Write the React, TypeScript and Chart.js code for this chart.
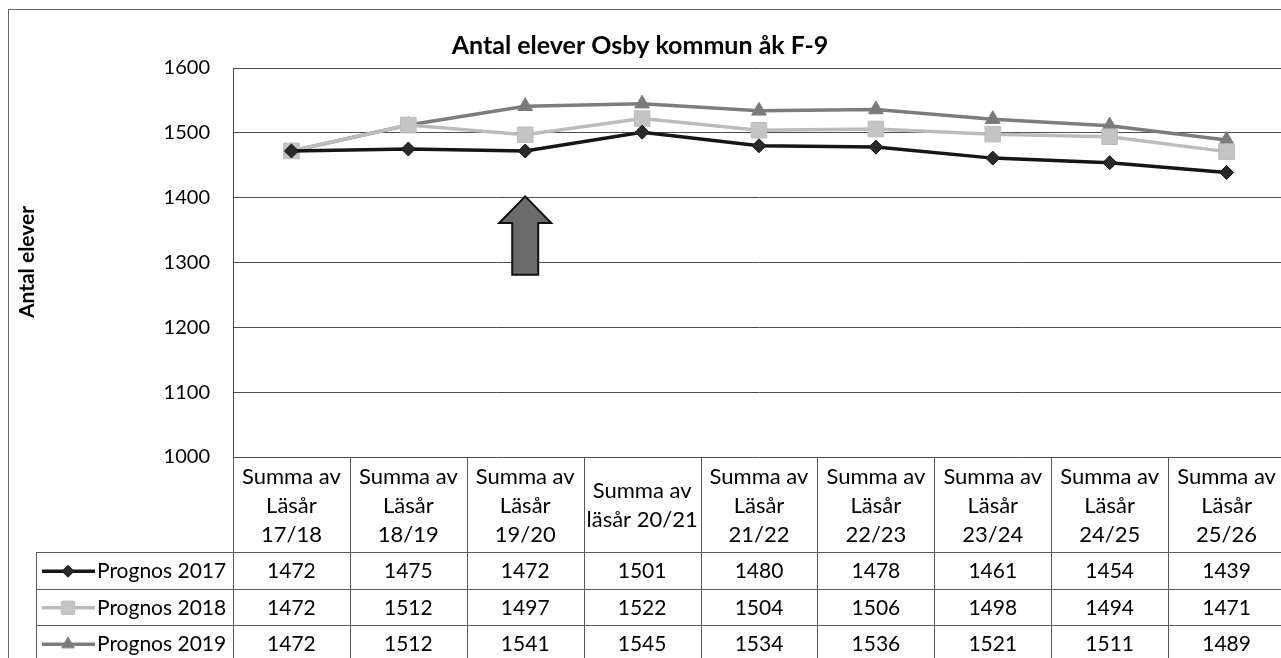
import React, { useEffect, useRef } from "react";
import { Chart, registerables } from "chart.js";

Chart.register(...registerables);

const chartTitle = "Antal elever Osby kommun åk F-9";
const yAxisTitle = "Antal elever";
const categories: string[][] = [
  ["Summa av", "Läsår", "17/18"],
  ["Summa av", "Läsår", "18/19"],
  ["Summa av", "Läsår", "19/20"],
  ["Summa av", "läsår 20/21"],
  ["Summa av", "Läsår", "21/22"],
  ["Summa av", "Läsår", "22/23"],
  ["Summa av", "Läsår", "23/24"],
  ["Summa av", "Läsår", "24/25"],
  ["Summa av", "Läsår", "25/26"],
];
const seriesNames = ["Prognos 2017", "Prognos 2018", "Prognos 2019"];
const prognos2017 = [1472, 1475, 1472, 1501, 1480, 1478, 1461, 1454, 1439];
const prognos2018 = [1472, 1512, 1497, 1522, 1504, 1506, 1498, 1494, 1471];
const prognos2019 = [1472, 1512, 1541, 1545, 1534, 1536, 1521, 1511, 1489];
const yMin = 1000;
const yMax = 1600;
const yStep = 100;

const FONT = "Lato, 'Open Sans', sans-serif";
const CANVAS_W = 1300;
const CANVAS_H = 670;

const seriesStyles = [
  { color: "#151515", point: "rectRot", radius: 7, fill: "#2a2a2a" },
  { color: "#bcbcbc", point: "rect", radius: 11, fill: "#c4c4c4" },
  { color: "#7c7c7c", point: "triangle", radius: 8.5, fill: "#7a7a7a" },
];

function drawMarker(ctx: CanvasRenderingContext2D, kind: string, x: number, y: number, r: number, fill: string, stroke: string) {
  ctx.save();
  ctx.fillStyle = fill;
  ctx.strokeStyle = stroke;
  ctx.lineWidth = 1;
  ctx.beginPath();
  if (kind === "rectRot") {
    ctx.moveTo(x, y - r);
    ctx.lineTo(x + r, y);
    ctx.lineTo(x, y + r);
    ctx.lineTo(x - r, y);
    ctx.closePath();
  } else if (kind === "rect") {
    const s = Math.SQRT1_2 * r;
    ctx.rect(x - s, y - s, 2 * s, 2 * s);
  } else {
    ctx.moveTo(x, y - r);
    ctx.lineTo(x + r * 0.866, y + r * 0.5);
    ctx.lineTo(x - r * 0.866, y + r * 0.5);
    ctx.closePath();
  }
  ctx.fill();
  ctx.stroke();
  ctx.restore();
}

const decorPlugin = {
  id: "decor",
  beforeDraw(chart: any) {
    const ctx = chart.ctx as CanvasRenderingContext2D;
    ctx.save();
    ctx.fillStyle = "#ffffff";
    ctx.fillRect(0, 0, chart.width, chart.height);
    ctx.restore();
  },
  afterDatasetsDraw(chart: any) {
    // highlight arrow under the 19/20 column
    const ctx = chart.ctx as CanvasRenderingContext2D;
    const xs = chart.scales.x;
    const ys = chart.scales.y;
    const cx = xs.getPixelForValue(2);
    const tip = ys.getPixelForValue(1402);
    const base = ys.getPixelForValue(1361);
    const bottom = ys.getPixelForValue(1281);
    ctx.save();
    ctx.beginPath();
    ctx.moveTo(cx, tip);
    ctx.lineTo(cx + 26, base);
    ctx.lineTo(cx + 13, base);
    ctx.lineTo(cx + 13, bottom);
    ctx.lineTo(cx - 13, bottom);
    ctx.lineTo(cx - 13, base);
    ctx.lineTo(cx - 26, base);
    ctx.closePath();
    ctx.fillStyle = "#6b6b6b";
    ctx.fill();
    ctx.lineWidth = 2;
    ctx.strokeStyle = "#111";
    ctx.stroke();
    ctx.restore();
  },
  afterDraw(chart: any) {
    const ctx = chart.ctx as CanvasRenderingContext2D;
    const area = chart.chartArea;
    const xs = chart.scales.x;
    const n = categories.length;
    const colW = (area.right - area.left) / n;
    const tableTop = area.bottom;
    const headerBottom = tableTop + 95;
    const rowH = 36.5;
    const legendLeft = 36;
    const grid = "#5a5a5a";

    ctx.save();
    // outer frame
    ctx.strokeStyle = "#666";
    ctx.lineWidth = 1;
    ctx.strokeRect(8.5, 9.5, CANVAS_W + 50, CANVAS_H + 50);

    // title
    ctx.fillStyle = "#000";
    ctx.font = `bold 25px ${FONT}`;
    ctx.textAlign = "center";
    ctx.textBaseline = "middle";
    ctx.fillText(chartTitle, 640, 46);

    // y-axis title
    ctx.save();
    ctx.translate(27, 262);
    ctx.rotate(-Math.PI / 2);
    ctx.font = `bold 21px ${FONT}`;
    ctx.fillText(yAxisTitle, 0, 0);
    ctx.restore();

    // table grid
    ctx.strokeStyle = grid;
    ctx.lineWidth = 1;
    ctx.beginPath();
    for (let i = 0; i <= n; i++) {
      const x = Math.round(area.left + i * colW) + 0.5;
      ctx.moveTo(x, tableTop);
      ctx.lineTo(x, CANVAS_H);
    }
    for (let r = 0; r <= seriesNames.length; r++) {
      const y = Math.round(headerBottom + r * rowH) + 0.5;
      ctx.moveTo(legendLeft, y);
      ctx.lineTo(CANVAS_W, y);
    }
    ctx.moveTo(legendLeft + 0.5, headerBottom);
    ctx.lineTo(legendLeft + 0.5, CANVAS_H);
    ctx.stroke();

    // header text
    ctx.fillStyle = "#000";
    ctx.font = `22px ${FONT}`;
    ctx.textAlign = "center";
    ctx.textBaseline = "middle";
    const lineH = 29;
    const headerMid = (tableTop + headerBottom) / 2 + 1;
    categories.forEach((lines, i) => {
      const cx = xs.getPixelForValue(i);
      const start = headerMid - ((lines.length - 1) * lineH) / 2;
      lines.forEach((t, j) => ctx.fillText(t, cx, start + j * lineH));
    });

    // rows
    ctx.font = `21px ${FONT}`;
    const allSeries = [prognos2017, prognos2018, prognos2019];
    allSeries.forEach((vals, r) => {
      const yMid = headerBottom + r * rowH + rowH / 2 + 1;
      const st = seriesStyles[r];
      // legend key
      ctx.save();
      ctx.strokeStyle = st.color;
      ctx.lineWidth = 3.5;
      ctx.beginPath();
      ctx.moveTo(42, yMid);
      ctx.lineTo(95, yMid);
      ctx.stroke();
      ctx.restore();
      drawMarker(ctx, st.point, 68, yMid, st.radius * 0.85, st.fill, st.color);
      ctx.fillStyle = "#000";
      ctx.textAlign = "left";
      ctx.fillText(seriesNames[r], 97, yMid);
      ctx.textAlign = "center";
      vals.forEach((v, i) => {
        ctx.fillText(String(v), xs.getPixelForValue(i), yMid);
      });
    });
    ctx.restore();
  },
};

export default function App() {
  const ref = useRef<HTMLCanvasElement | null>(null);
  useEffect(() => {
    if (!ref.current) return;
    const datasets = [prognos2017, prognos2018, prognos2019].map((d, i) => ({
      label: seriesNames[i],
      data: d,
      borderColor: seriesStyles[i].color,
      backgroundColor: seriesStyles[i].fill,
      borderWidth: 3.5,
      pointStyle: seriesStyles[i].point as any,
      pointRadius: seriesStyles[i].radius,
      pointBackgroundColor: seriesStyles[i].fill,
      pointBorderColor: seriesStyles[i].color,
      pointBorderWidth: 1,
      tension: 0,
    }));
    const chart = new Chart(ref.current, {
      type: "line",
      data: { labels: categories.map((c) => c.join(" ")), datasets },
      options: {
        responsive: false,
        animation: false,
        devicePixelRatio: 1,
        layout: { padding: { left: 0, top: 68, right: CANVAS_W - 1285, bottom: CANVAS_H - 457 } },
        plugins: {
          legend: { display: false },
          title: { display: false },
          tooltip: { enabled: false },
        },
        scales: {
          x: { type: "category", offset: true, display: false },
          y: {
            min: yMin,
            max: yMax,
            afterFit: (s: any) => {
              s.width = 233;
            },
            ticks: {
              stepSize: yStep,
              padding: 23,
              color: "#000",
              font: { family: FONT, size: 20 },
              callback: (v: any) => String(v),
            },
            grid: { color: "#4e4e4e", lineWidth: 1, drawTicks: false },
            border: { display: true, color: "#444", width: 1 },
          },
        },
      },
      plugins: [decorPlugin],
    });
    return () => chart.destroy();
  }, []);
  return (
    <div style={{ position: "absolute", left: 0, top: 0, width: 1281, height: 658, overflow: "hidden", background: "#fff" }}>
      <canvas ref={ref} width={CANVAS_W} height={CANVAS_H} style={{ display: "block" }} />
    </div>
  );
}
